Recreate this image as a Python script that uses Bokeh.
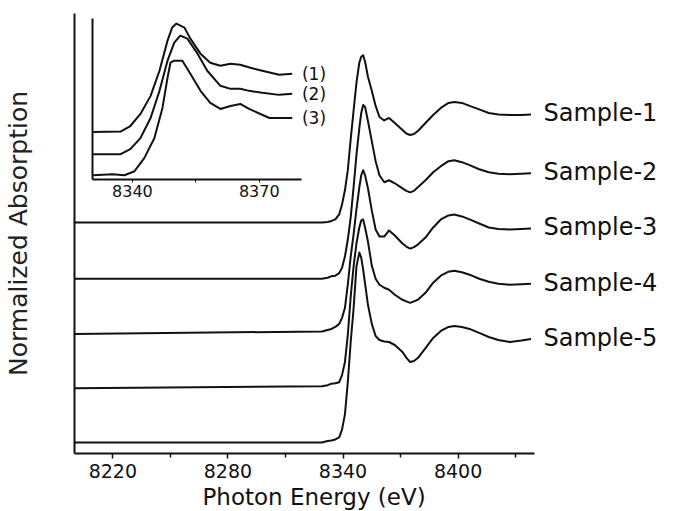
import numpy as np
from bokeh.plotting import figure
from bokeh.models import Range1d, LinearAxis, FixedTicker, Title
from bokeh.embed import file_html
from bokeh.resources import INLINE
from bokeh.core.properties import value

# ---------------- data ----------------
energy = [8200, 8329, 8332, 8334, 8336, 8338, 8339.5, 8341, 8342.5, 8344, 8345.5,
          8347, 8348.5, 8349.5, 8350.5, 8351.5, 8353, 8355, 8357, 8359, 8361.5,
          8364, 8367, 8371, 8373, 8375, 8377, 8379, 8383, 8387, 8391, 8395, 8398,
          8402, 8406, 8411, 8416, 8421, 8427, 8433, 8438]

sample_1 = [0, 0, 0.005, 0.015, 0.03, 0.08, 0.18, 0.32, 0.52, 0.83, 1.11, 1.39, 1.59,
            1.65, 1.665, 1.60, 1.45, 1.31, 1.16, 1.05, 1.015, 1.04, 0.99, 0.92, 0.885,
            0.87, 0.88, 0.91, 0.99, 1.07, 1.14, 1.19, 1.20, 1.19, 1.16, 1.125, 1.09,
            1.075, 1.07, 1.07, 1.075]
sample_2 = [0, 0, 0.01, 0.025, 0.03, 0.055, 0.11, 0.22, 0.39, 0.61, 0.91, 1.23, 1.50,
            1.65, 1.73, 1.71, 1.57, 1.37, 1.17, 1.03, 0.96, 0.98, 0.95, 0.90, 0.875,
            0.86, 0.875, 0.91, 0.98, 1.06, 1.12, 1.17, 1.18, 1.16, 1.13, 1.09, 1.06,
            1.045, 1.04, 1.045, 1.05]
sample_3 = [0, 0.025, 0.04, 0.05, 0.07, 0.10, 0.16, 0.26, 0.49, 0.77, 0.99, 1.24, 1.46,
            1.58, 1.63, 1.58, 1.45, 1.23, 1.04, 0.97, 0.97, 1.03, 0.98, 0.90, 0.87,
            0.85, 0.865, 0.89, 0.96, 1.06, 1.14, 1.18, 1.19, 1.17, 1.14, 1.10, 1.06,
            1.045, 1.04, 1.045, 1.05]
sample_4 = [0, 0.02, 0.03, 0.045, 0.05, 0.06, 0.13, 0.26, 0.53, 0.91, 1.21, 1.44, 1.60,
            1.67, 1.68, 1.60, 1.46, 1.22, 1.09, 1.03, 1.00, 0.98, 0.93, 0.88, 0.865,
            0.85, 0.865, 0.88, 0.95, 1.05, 1.12, 1.16, 1.17, 1.155, 1.13, 1.09, 1.06,
            1.04, 1.03, 1.035, 1.04]
sample_5 = [0, 0, 0.015, 0.02, 0.03, 0.05, 0.13, 0.28, 0.60, 1.00, 1.33, 1.75, 1.89,
            1.84, 1.72, 1.58, 1.37, 1.18, 1.06, 1.02, 1.005, 1.00, 0.97, 0.90, 0.845,
            0.80, 0.81, 0.84, 0.94, 1.04, 1.11, 1.15, 1.16, 1.15, 1.13, 1.09, 1.05,
            1.02, 1.00, 1.015, 1.03]

sample_names = ["Sample-1", "Sample-2", "Sample-3", "Sample-4", "Sample-5"]
sample_offsets = [2.19, 1.63, 1.08, 0.54, 0.0]

inset_energy_1 = [8330.7, 8337.2, 8339.5, 8341.9, 8344.3, 8346.4, 8348.3, 8349.4, 8350.4,
                  8352.3, 8353.7, 8356.1, 8358.4, 8360.8, 8363.2, 8365.5, 8367.9, 8370.7,
                  8374.7, 8377.8]
inset_curve_1 = [0.47, 0.475, 0.53, 0.65, 0.83, 1.08, 1.38, 1.51, 1.55, 1.51, 1.40, 1.25,
                 1.16, 1.13, 1.15, 1.14, 1.11, 1.08, 1.04, 1.05]
inset_energy_2 = [8330.7, 8337.2, 8339.5, 8341.9, 8344.3, 8346.4, 8348.3, 8349.9, 8351.3,
                  8353.0, 8355.4, 8357.7, 8360.8, 8363.2, 8365.5, 8367.6, 8370.7, 8374.7,
                  8377.8]
inset_curve_2 = [0.25, 0.25, 0.30, 0.41, 0.61, 0.88, 1.18, 1.36, 1.43, 1.40, 1.25, 1.08,
                 0.93, 0.90, 0.90, 0.88, 0.86, 0.84, 0.85]
inset_energy_3 = [8330.7, 8335.3, 8338.1, 8340.5, 8342.8, 8345.2, 8347.1, 8348.3, 8349.0,
                  8349.9, 8351.8, 8353.7, 8356.1, 8358.4, 8360.8, 8363.2, 8365.5, 8367.6,
                  8372.4, 8377.8]
inset_curve_3 = [0.04, 0.05, 0.04, 0.08, 0.21, 0.41, 0.71, 1.01, 1.16, 1.18, 1.18, 1.05,
                 0.88, 0.76, 0.70, 0.73, 0.75, 0.70, 0.61, 0.61]
inset_names = ["(1)", "(2)", "(3)"]

major_ticks = [8220, 8280, 8340, 8400]
minor_ticks = [8250, 8310, 8370, 8430]
inset_major_ticks = [8340, 8370]
inset_minor_ticks = [8355]

# ---------------- figure ----------------
FONT = "DejaVu Sans"
INK = "#111111"

p = figure(width=682, height=510,
           x_range=Range1d(8200, 8517), y_range=Range1d(-0.11, 4.27),
           output_backend="svg", toolbar_location=None,
           min_border_left=72, min_border_right=0, min_border_top=13, min_border_bottom=0)
p.xgrid.visible = False
p.ygrid.visible = False
p.outline_line_color = None
p.background_fill_color = "white"
p.border_fill_color = "white"

xa = p.xaxis[0]
xa.ticker = FixedTicker(ticks=major_ticks, minor_ticks=minor_ticks)
xa.bounds = (8200, 8440)
xa.axis_line_width = 2
xa.axis_line_color = INK
xa.major_tick_line_color = INK
xa.minor_tick_line_color = INK
xa.major_tick_line_width = 1.5
xa.minor_tick_line_width = 1.5
xa.major_tick_in = 0
xa.major_tick_out = 5
xa.minor_tick_in = 0
xa.minor_tick_out = 4
xa.major_label_standoff = 5
xa.major_label_text_font = FONT
xa.major_label_text_font_size = "19px"
xa.major_label_text_color = INK

# x-axis title, left-aligned under the bounded axis
xtitle = Title(text="Photon Energy (eV)", align="left", offset=128, standoff=2,
               text_font=FONT, text_font_size="23px", text_font_style="normal",
               text_color=INK)
p.add_layout(xtitle, "below")

ya = p.yaxis[0]
ya.ticker = FixedTicker(ticks=[])
ya.axis_line_width = 2
ya.axis_line_color = INK
ya.major_tick_out = 0
ya.major_tick_in = 0
ya.minor_tick_out = 0
ya.minor_tick_in = 0
ya.axis_label = "Normalized Absorption"
ya.axis_label_text_font = FONT
ya.axis_label_text_font_size = "25px"
ya.axis_label_text_font_style = "normal"
ya.axis_label_text_color = "#222222"
ya.axis_label_standoff = 42

# main spectra
spectra = [sample_1, sample_2, sample_3, sample_4, sample_5]
for vals, off in zip(spectra, sample_offsets):
    p.line(energy, np.array(vals) + off, line_color=INK, line_width=2, line_join="round")

label_x = [energy[-1] + 6.5] * len(sample_names)
label_y = [v[-1] + off + 0.01 for v, off in zip(spectra, sample_offsets)]
p.text(x=label_x, y=label_y, text=sample_names, text_font=value(FONT),
       text_font_size="24px", text_color=INK, text_baseline="middle", text_align="left")

# ---------------- inset ----------------
p.extra_x_ranges = {"ix": Range1d(8326.3, 8470.1)}
p.extra_y_ranges = {"iy": Range1d(-2.73, 1.65)}

ixa = LinearAxis(x_range_name="ix", y_range_name="iy", fixed_location=0,
                 bounds=(8330.6, 8380),
                 ticker=FixedTicker(ticks=inset_major_ticks, minor_ticks=inset_minor_ticks))
ixa.axis_line_width = 2
ixa.axis_line_color = INK
ixa.major_tick_in = 0
ixa.major_tick_out = 3
ixa.minor_tick_in = 0
ixa.minor_tick_out = 3
ixa.major_tick_line_color = INK
ixa.minor_tick_line_color = INK
ixa.major_label_standoff = 3
ixa.major_label_text_font = FONT
ixa.major_label_text_font_size = "16px"
ixa.major_label_text_color = INK
p.add_layout(ixa, "below")

iya = LinearAxis(x_range_name="ix", y_range_name="iy", fixed_location=8330.6,
                 bounds=(0, 1.6), ticker=FixedTicker(ticks=[]))
iya.axis_line_width = 2
iya.axis_line_color = INK
iya.major_tick_out = 0
iya.major_tick_in = 0
iya.minor_tick_out = 0
iya.minor_tick_in = 0
p.add_layout(iya, "left")

inset_e = [inset_energy_1, inset_energy_2, inset_energy_3]
inset_v = [inset_curve_1, inset_curve_2, inset_curve_3]
for e, v in zip(inset_e, inset_v):
    p.line(e, v, line_color=INK, line_width=2, line_join="round",
           x_range_name="ix", y_range_name="iy")

p.text(x=[e[-1] + 2.3 for e in inset_e], y=[v[-1] for v in inset_v], text=inset_names,
       text_font=value(FONT), text_font_size="17px", text_color=INK,
       text_baseline="middle", text_align="left", x_range_name="ix", y_range_name="iy")

open("out.html", "w").write(file_html(p, INLINE))
